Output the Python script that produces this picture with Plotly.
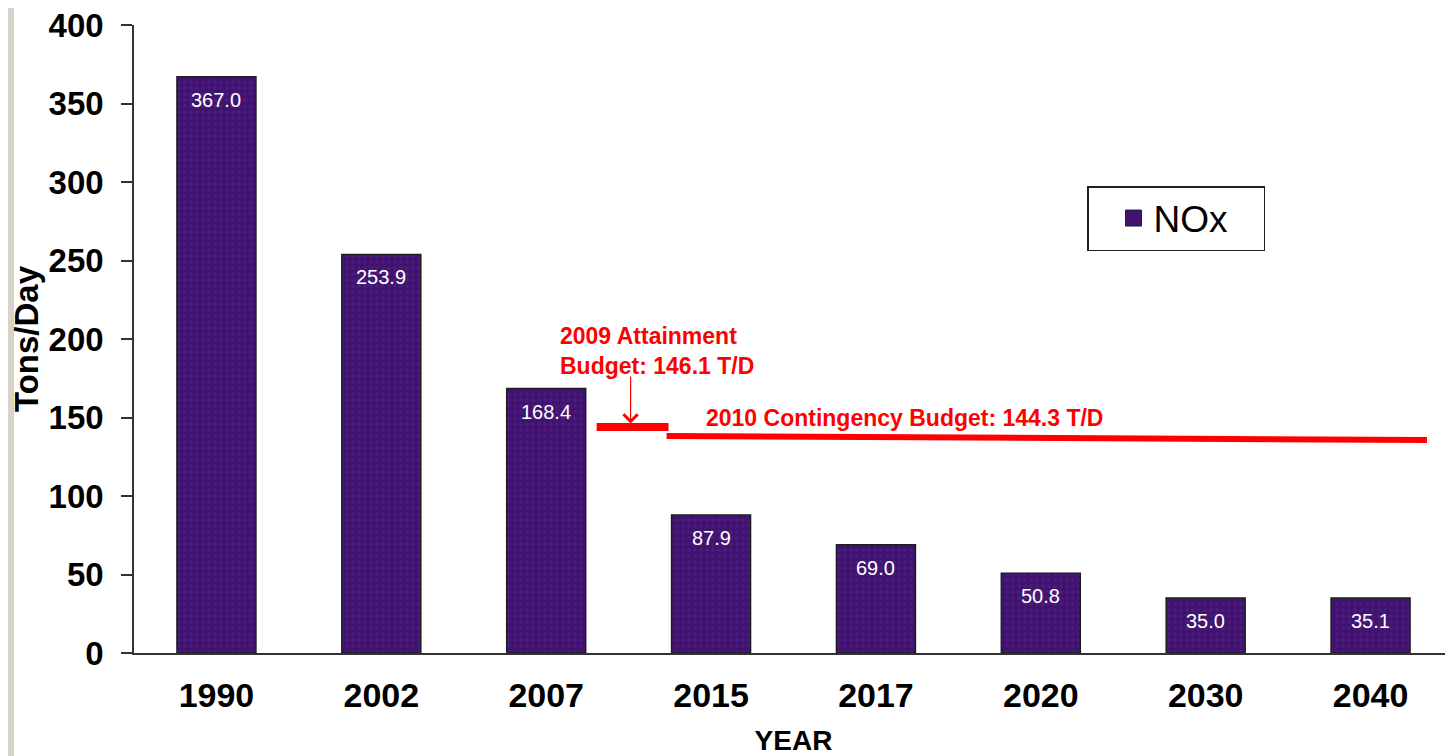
import plotly.graph_objects as go

# ---- data ----
years = ["1990", "2002", "2007", "2015", "2017", "2020", "2030", "2040"]
nox = [367.0, 253.9, 168.4, 87.9, 69.0, 50.8, 35.0, 35.1]
series_name = "NOx"
y_ticks = [0, 50, 100, 150, 200, 250, 300, 350, 400]

# budget lines as drawn (x in category index units, y in tons/day)
attain_x = [2.306, 2.742]
attain_y = [144.0, 144.0]
conting_x = [2.73, 7.342]
conting_y = [138.2, 135.7]
attain_text = "2009 Attainment<br>Budget: 146.1 T/D"
conting_text = "2010 Contingency Budget: 144.3 T/D"
attain_value = 146.1

FONT = "Arial, Liberation Sans, sans-serif"
PURPLE = "#40136f"
RED = "#ff0000"

fig = go.Figure()
fig.add_trace(go.Bar(
    x=years, y=nox, name=series_name, showlegend=False,
    marker=dict(color=PURPLE, line=dict(color="#1e1e1e", width=1.5),
                pattern=dict(shape=".", fgcolor="#55238c", size=6, solidity=0.3)),
    hoverinfo="x+y",
))
# legend entry
fig.add_trace(go.Scatter(
    x=[years[0]], y=[None], mode="markers", name=series_name,
    marker=dict(symbol="square", size=16, color=PURPLE, line=dict(color="#222", width=1)),
))

# value labels inside the bars
for i, v in enumerate(nox):
    fig.add_annotation(x=i, y=v, xref="x", yref="y", text=f"{v:.1f}", showarrow=False,
                       yshift=-23, font=dict(family=FONT, size=20, color="white"))

# budget lines
fig.add_shape(type="line", xref="x", yref="y", x0=attain_x[0], x1=attain_x[1],
              y0=attain_y[0], y1=attain_y[1], line=dict(color=RED, width=8))
fig.add_shape(type="line", xref="x", yref="y", x0=conting_x[0], x1=conting_x[1],
              y0=conting_y[0], y1=conting_y[1], line=dict(color=RED, width=6))

fig.add_annotation(x=2.07, y=192.4, xref="x", yref="y", text=attain_text, showarrow=False,
                   xanchor="left", yanchor="middle", align="left",
                   font=dict(family=FONT, size=23, color=RED, weight="bold"))
fig.add_annotation(x=2.96, y=149.7, xref="x", yref="y", text=conting_text, showarrow=False,
                   xanchor="left", yanchor="middle",
                   font=dict(family=FONT, size=23, color=RED, weight="bold"))
# arrow
fig.add_annotation(x=2.512, y=attain_value, ax=2.512, ay=177, xref="x", yref="y",
                   axref="x", ayref="y", text="", showarrow=True, arrowhead=4,
                   arrowsize=2.3, arrowwidth=1.2, arrowcolor=RED)

# left decorative strip
fig.add_shape(type="rect", xref="paper", yref="paper", x0=-126/1319, x1=(6-126)/1319,
              y0=-103/628, y1=1 + 17/628, fillcolor="#d8d3ca", line=dict(width=0), layer="below")

fig.update_layout(
    width=1445, height=748,
    margin=dict(l=126, r=0, t=17, b=103, autoexpand=False),
    paper_bgcolor="white", plot_bgcolor="white",
    bargap=0.521,
    font=dict(family=FONT, color="black"),
    legend=dict(x=(1087-134)/1319, y=(653-186)/628, xanchor="left", yanchor="top",
                orientation="h", entrywidth=105, indentation=25,
                bordercolor="#222", borderwidth=1.5, bgcolor="white",
                font=dict(family=FONT, size=37, color="black")),
    showlegend=True,
    xaxis=dict(type="category", categoryorder="array", categoryarray=years,
               range=[-0.5, 7.5], automargin=False,
               showline=True, linecolor="#333", linewidth=1.5,
               ticks="", showgrid=False, zeroline=False,
               tickfont=dict(family=FONT, size=34, weight="bold"),
               ticklabelstandoff=11,
               title=dict(text="YEAR", standoff=22,
                          font=dict(family=FONT, size=28, weight="bold"))),
    yaxis=dict(range=[0, 400], tickvals=y_ticks, automargin=False,
               ticklabeloverflow="allow",
               showline=True, linecolor="#333",
               linewidth=1.5, ticks="outside", ticklen=11, tickcolor="#333", tickwidth=1.5,
               showgrid=False, zeroline=False,
               tickfont=dict(family=FONT, size=33, weight="bold"),
               ticklabelstandoff=11,
               title=dict(text="Tons/Day", standoff=3,
                          font=dict(family=FONT, size=33, weight="bold"))),
)

fig.write_html("out.html")
